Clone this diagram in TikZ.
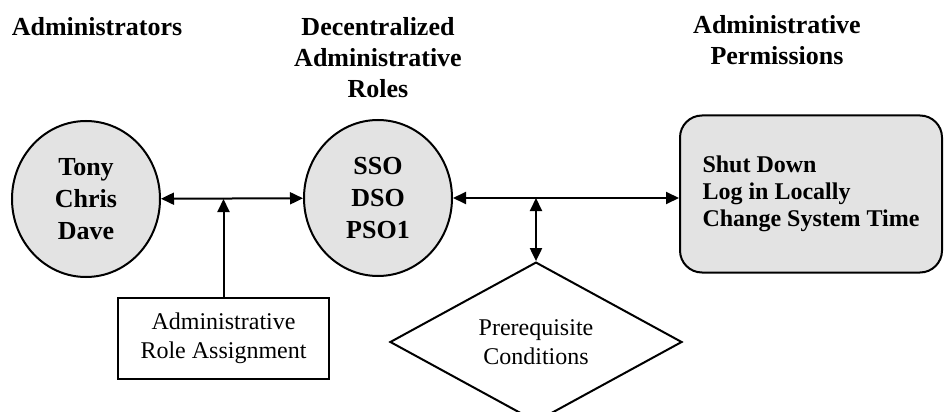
\documentclass[tikz,border=0pt]{standalone}
\usepackage{fontspec}
\setmainfont{Liberation Serif}
\usetikzlibrary{shapes.geometric,arrows.meta}
\begin{document}
\begin{tikzpicture}[x=1pt,y=-1pt,
  hdr/.style={font=\fontsize{26}{31}\selectfont\bfseries, align=center, inner sep=0pt},
  bubble/.style={ellipse, draw, line width=2pt, fill=gray!22, inner sep=0pt,
    minimum width=148pt, minimum height=156pt, align=center,
    font=\fontsize{26}{32}\selectfont\bfseries},
  plain/.style={font=\fontsize{24}{29}\selectfont, align=center},
  conn/.style={line width=2pt, {Triangle[length=13pt,width=12pt]}-{Triangle[length=13pt,width=12pt]}},
  conn1/.style={line width=2pt, -{Triangle[length=13pt,width=12pt]}}
]
\useasboundingbox (0,0) rectangle (946,412);
\node[hdr] (h1) at (97,27) {Administrators};
\node[hdr] (h2) at (378,58) {Decentralized\\Administrative\\Roles};
\node[hdr] (h3) at (777,40) {Administrative\\Permissions};

\node[bubble] (adm) at (86,199) {Tony\\Chris\\Dave};
\node[bubble] (roles) at (378,198) {SSO\\DSO\\PSO1};
\node[draw, line width=2pt, fill=gray!22, rounded corners=22pt,
  minimum width=262pt, minimum height=157pt, align=left,
  font=\fontsize{24}{27}\selectfont\bfseries] (perm) at (811,194)
  {Shut Down\\Log in Locally\\Change System Time};

\node[draw, line width=2pt, fill=white, plain, minimum width=211pt,
  minimum height=81pt, inner sep=0pt] (assign) at (223.5,338.5)
  {Administrative\\Role Assignment};
\node[diamond, draw, line width=2pt, fill=white, plain, inner sep=0pt,
  minimum width=292pt, minimum height=135pt] (cond) at (536,342)
  {Prerequisite\\Conditions};

\draw[conn] (adm) -- (roles);
\coordinate (j1) at (assign.north |- adm.east);
\draw[conn1] (assign.north) -- (j1);
\coordinate (pw) at (roles.east -| perm.west);
\draw[conn] (roles.east) -- (pw);
\coordinate (j2) at (cond.north |- roles.east);
\draw[conn] (j2) -- (cond.north);
\end{tikzpicture}
\end{document}
